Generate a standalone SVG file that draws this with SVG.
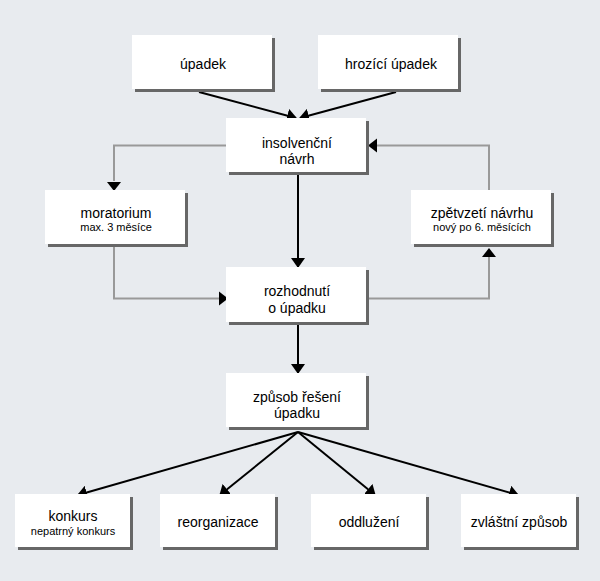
<svg xmlns="http://www.w3.org/2000/svg" width="600" height="581" viewBox="0 0 600 581">
<style>
.box{fill:#ffffff}
.sh{fill:#676767}
.t{font-family:"Liberation Sans",Arial,sans-serif;font-size:14px;fill:#000;text-anchor:middle}
.s{font-family:"Liberation Sans",Arial,sans-serif;font-size:11px;fill:#000;text-anchor:middle}
.blk{fill:none;stroke:#000;stroke-width:2}
.gry{fill:none;stroke:#999;stroke-width:2}
</style>
<defs>
<marker id="ah" markerUnits="userSpaceOnUse" markerWidth="10" markerHeight="14" viewBox="0 0 10 14" refX="9" refY="7" orient="auto">
<path d="M0,0 L10,7 L0,14 Z" fill="#000"/>
</marker>
</defs>
<rect x="0" y="0" width="600" height="581" fill="#e8ebef"/>
<g id="connectors">
<line class="blk" x1="199" y1="92" x2="296" y2="118" marker-end="url(#ah)"/>
<line class="blk" x1="396" y1="92" x2="300" y2="118" marker-end="url(#ah)"/>
<line class="blk" x1="298" y1="175" x2="298" y2="267" marker-end="url(#ah)"/>
<line class="blk" x1="298" y1="325" x2="298" y2="373" marker-end="url(#ah)"/>
<polyline class="gry" points="226,145.5 114,145.5 114,181"/>
<path d="M107,182 L121,182 L114,191 Z" fill="#000"/>
<polyline class="gry" points="489,190 489,145.5 377,145.5"/>
<path d="M377,138.5 L377,152.5 L368,145.5 Z" fill="#000"/>
<polyline class="gry" points="114,247 114,298.5 219,298.5"/>
<path d="M219,291.5 L219,305.5 L228,298.5 Z" fill="#000"/>
<polyline class="gry" points="366,298.5 489,298.5 489,257"/>
<path d="M482,257 L496,257 L489,248 Z" fill="#000"/>
<line class="blk" x1="298" y1="432" x2="78" y2="495" marker-end="url(#ah)"/>
<line class="blk" x1="298" y1="432" x2="220" y2="495" marker-end="url(#ah)"/>
<line class="blk" x1="298" y1="432" x2="375" y2="495" marker-end="url(#ah)"/>
<line class="blk" x1="298" y1="432" x2="518" y2="495" marker-end="url(#ah)"/>
</g>
<g id="upadek">
<rect class="sh" x="135" y="38" width="140" height="54"/>
<rect class="box" x="132" y="35" width="140" height="54"/>
<text class="t" x="203" y="69">úpadek</text>
</g>
<g id="hrozici">
<rect class="sh" x="321" y="38" width="140" height="54"/>
<rect class="box" x="318" y="35" width="140" height="54"/>
<text class="t" x="391" y="69">hrozící úpadek</text>
</g>
<g id="insolvencni">
<rect class="sh" x="229" y="121" width="140" height="54"/>
<rect class="box" x="226" y="118" width="140" height="54"/>
<text class="t" x="297" y="148">insolvenční</text>
<text class="t" x="297" y="164">návrh</text>
</g>
<g id="moratorium">
<rect class="sh" x="48" y="193" width="140" height="54"/>
<rect class="box" x="45" y="190" width="140" height="54"/>
<text class="t" x="116" y="218">moratorium</text>
<text class="s" x="116" y="231">max. 3 měsíce</text>
</g>
<g id="zpetvzeti">
<rect class="sh" x="414" y="193" width="140" height="54"/>
<rect class="box" x="411" y="190" width="140" height="54"/>
<text class="t" x="482" y="218">zpětvzetí návrhu</text>
<text class="s" x="482" y="231">nový po 6. měsících</text>
</g>
<g id="rozhodnuti">
<rect class="sh" x="229" y="270" width="140" height="55"/>
<rect class="box" x="226" y="267" width="140" height="55"/>
<text class="t" x="297" y="296">rozhodnutí</text>
<text class="t" x="297" y="313">o úpadku</text>
</g>
<g id="zpusob">
<rect class="sh" x="229" y="376" width="140" height="54"/>
<rect class="box" x="226" y="373" width="140" height="54"/>
<text class="t" x="297" y="402">způsob řešení</text>
<text class="t" x="297" y="418">úpadku</text>
</g>
<g id="konkurs">
<rect class="sh" x="18" y="497" width="115" height="53"/>
<rect class="box" x="15" y="494" width="115" height="53"/>
<text class="t" x="73" y="521">konkurs</text>
<text class="s" x="73" y="535">nepatrný konkurs</text>
</g>
<g id="reorganizace">
<rect class="sh" x="163" y="497" width="115" height="53"/>
<rect class="box" x="160" y="494" width="115" height="53"/>
<text class="t" x="218" y="527">reorganizace</text>
</g>
<g id="oddluzeni">
<rect class="sh" x="314" y="497" width="115" height="53"/>
<rect class="box" x="311" y="494" width="115" height="53"/>
<text class="t" x="369" y="527">oddlužení</text>
</g>
<g id="zvlastni">
<rect class="sh" x="464" y="497" width="115" height="53"/>
<rect class="box" x="461" y="494" width="115" height="53"/>
<text class="t" x="519" y="527">zvláštní způsob</text>
</g>
</svg>
